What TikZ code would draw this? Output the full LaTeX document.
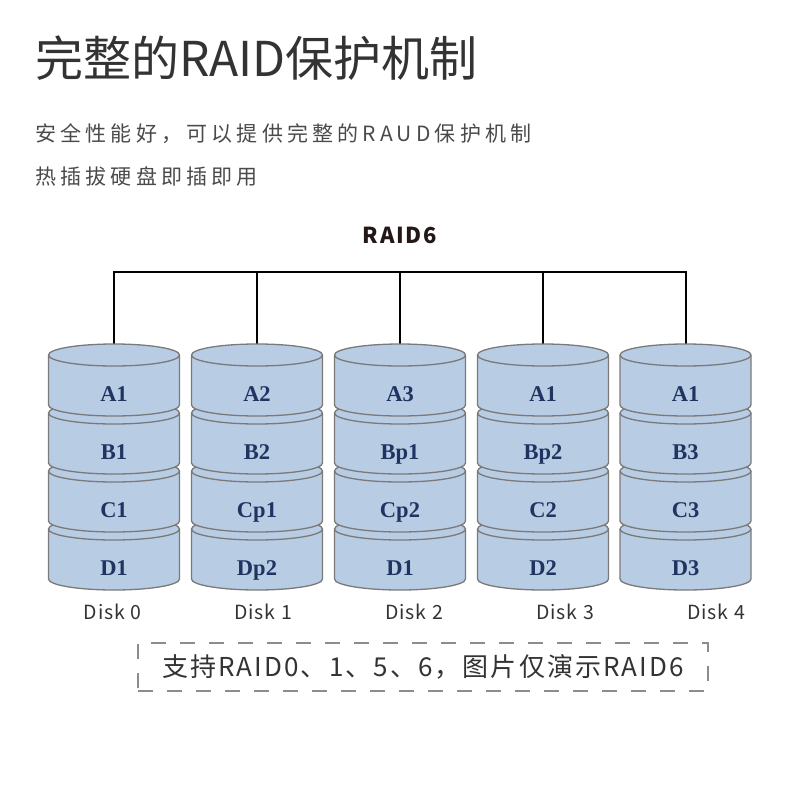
\documentclass[tikz,border=0pt]{standalone}
\usepackage{fontspec}
\newfontfamily\cjk{Noto Sans CJK SC}
\newfontfamily\cjksub[LetterSpace=20]{Noto Sans CJK SC}
\newfontfamily\cjknote[LetterSpace=8]{Noto Sans CJK SC}
\newfontfamily\cjkdisk[LetterSpace=5]{Noto Sans CJK SC}
\newfontfamily\cjkraid[LetterSpace=8]{Noto Sans CJK SC}
\newfontfamily\lblserif{Liberation Serif}
\definecolor{titlegray}{HTML}{333333}
\definecolor{subgray}{HTML}{4A4A4A}
\definecolor{diskfill}{HTML}{B8CCE4}
\definecolor{diskline}{HTML}{7A7A7A}
\definecolor{lblnavy}{HTML}{1F3460}
\definecolor{dashgray}{HTML}{8C8C8C}
\definecolor{raidink}{HTML}{231815}
\newcommand\rxd{65.5}
\newcommand\ryd{11}
\newcommand\drawlayer[4]{%
  \path[layerbody] ({#1-\rxd},{-#2}) -- ({#1-\rxd},{-#2-50})
     arc[start angle=180,end angle=360,x radius=\rxd,y radius=\ryd]
     -- ({#1+\rxd},{-#2})
     arc[start angle=0,end angle=180,x radius=\rxd,y radius=\ryd] -- cycle;
  \draw[layeredge] ({#1-\rxd},{-#2})
     arc[start angle=180,end angle=360,x radius=\rxd,y radius=\ryd];
  \node[layerlabel] (#4) at (#1,{-#2-46}) {#3};
}
\begin{document}
\begin{tikzpicture}[x=1pt,y=1pt,
  layerbody/.style={fill=diskfill,draw=diskline,line width=1.3pt,line join=round},
  layeredge/.style={draw=diskline,line width=1.3pt},
  layerlabel/.style={font=\lblserif\bfseries\fontsize{22.5}{26}\selectfont,text=lblnavy,inner sep=0pt,anchor=base},
  bus/.style={draw=black,line width=2pt},
  disklabel/.style={font=\cjkdisk\fontsize{19.5}{22}\selectfont,text=titlegray,anchor=base,inner sep=0pt},
  notebox/.style={draw=dashgray,line width=2pt,dash pattern=on 15pt off 14pt,minimum width=570pt,minimum height=48pt,inner sep=0pt,font=\cjknote\fontsize{26}{30}\selectfont,text=titlegray}
]
\useasboundingbox (0,0) rectangle (800,-800);
% headings
\node[anchor=base west,inner sep=0pt,font=\cjk\fontsize{48}{56}\selectfont,text=titlegray] (title) at (35,-76) {完整的RAID保护机制};
\node[anchor=base west,inner sep=0pt,font=\cjksub\fontsize{21}{26}\selectfont,text=subgray] (sub1) at (35,-141) {安全性能好，可以提供完整的RAUD保护机制};
\node[anchor=base west,inner sep=0pt,font=\cjksub\fontsize{21}{26}\selectfont,text=subgray] (sub2) at (35,-184) {热插拔硬盘即插即用};
\node[anchor=base,inner sep=0pt,font=\cjkraid\bfseries\fontsize{22}{26}\selectfont,text=raidink] (raid) at (400,-243) {RAID6};
% bus coordinates
\foreach \i/\cx in {0/114,1/257,2/400,3/543,4/685.5}{
  \coordinate (bus\i) at (\cx,-272);
  \coordinate (top\i) at (\cx,-344);
}
\draw[bus,line cap=rect] (bus0) -- (bus4);
\foreach \i in {0,...,4}{\draw[bus] (bus\i) -- (top\i);}
% disks (bottom layer first)
\foreach \i/\cx/\la/\lb/\lc/\ld in {0/114/A1/B1/C1/D1,1/257/A2/B2/Cp1/Dp2,2/400/A3/Bp1/Cp2/D1,3/543/A1/Bp2/C2/D2,4/685.5/A1/B3/C3/D3}{
  \drawlayer{\cx}{529}{\ld}{d\i-D}
  \drawlayer{\cx}{471}{\lc}{d\i-C}
  \drawlayer{\cx}{413}{\lb}{d\i-B}
  \drawlayer{\cx}{355}{\la}{d\i-A}
}
% disk names
\foreach \i/\lx in {0/112.5,1/263,2/414,3/565,4/716}{
  \node[disklabel] (dname\i) at (\lx,-619) {Disk \i};
}
% note box
\node[notebox] (note) at (423,-667) {支持RAID0、1、5、6，图片仅演示RAID6};
\end{tikzpicture}
\end{document}
